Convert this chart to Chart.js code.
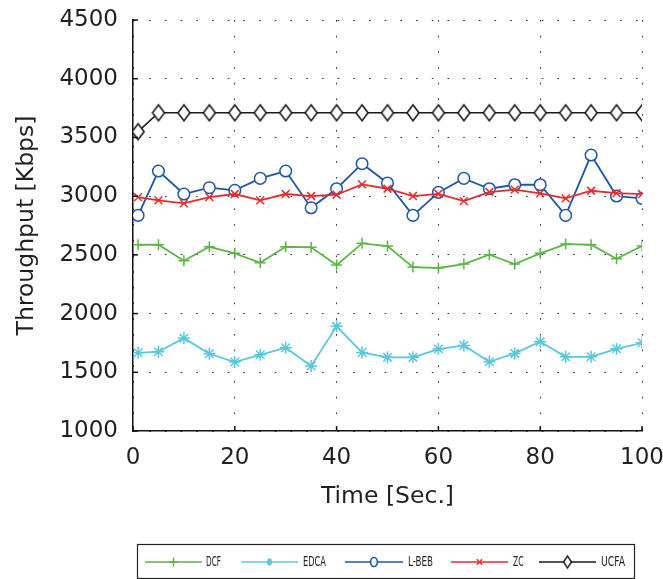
<!DOCTYPE html>
<html><head><meta charset="utf-8">
<script src="https://cdn.jsdelivr.net/npm/chart.js@4/dist/chart.umd.min.js"></script>
<style>html,body{margin:0;padding:0;background:#fff;}#wrap{width:663px;height:579px;position:relative;}</style>
</head><body><div id="wrap"><canvas id="c" width="663" height="579"></canvas></div>
<script>
const timeSec = [1,5,10,15,20,25,30,35,40,45,50,55,60,65,70,75,80,85,90,95,100];
const dcf  = [2586,2586,2450,2569,2513,2433,2569,2564,2413,2598,2575,2396,2388,2422,2501,2422,2513,2592,2586,2467,2575];
const edca = [1666,1675,1791,1658,1587,1649,1709,1553,1891,1669,1627,1627,1698,1729,1589,1661,1760,1632,1632,1700,1751];
const lbeb = [2836,3214,3018,3072,3049,3151,3214,2901,3063,3276,3112,2836,3032,3151,3063,3097,3097,2836,3350,3001,2981];
const zc   = [2992,2964,2938,2992,3018,2964,3018,3001,3012,3100,3063,3001,3020,2958,3035,3055,3023,2981,3046,3026,3018];
const ucfa = [3549,3710,3710,3710,3710,3710,3710,3710,3710,3710,3710,3710,3710,3710,3710,3710,3710,3710,3710,3710,3710];
const seriesNames = ['DCF','EDCA','L-BEB','ZC','UCFA'];
const xTickValues = [0,20,40,60,80,100];
const yTickValues = [1000,1500,2000,2500,3000,3500,4000,4500];
const xTitle = 'Time [Sec.]';
const yTitle = 'Throughput [Kbps]';

const COLORS = ['#5cb645','#5ac8dc','#1f57a8','#ea2b2b','#1a1a1a'];
const TXT = '#231f20';

function diamond(w,h,lw){
  const c=document.createElement('canvas');
  c.width=Math.ceil(w+lw*2+2); c.height=Math.ceil(h+lw*2+2);
  const g=c.getContext('2d'); const cx=c.width/2, cy=c.height/2;
  g.beginPath(); g.moveTo(cx,cy-h/2); g.lineTo(cx+w/2,cy); g.lineTo(cx,cy+h/2); g.lineTo(cx-w/2,cy); g.closePath();
  g.fillStyle='#fff'; g.fill(); g.lineWidth=lw; g.strokeStyle=COLORS[4]; g.stroke();
  return c;
}
const bigDiamond = diamond(12,16,1.6);
const smallDiamond = diamond(8,12,1.4);

const toPts = arr => timeSec.map((t,i)=>({x:t,y:arr[i]}));
const styleDefs = [
  {pointStyle:'cross', pointRadius:5.5, fill:COLORS[0]},
  {pointStyle:'star', pointRadius:6, fill:COLORS[1]},
  {pointStyle:'circle', pointRadius:5.8, fill:'#fff'},
  {pointStyle:'crossRot', pointRadius:5.5, fill:COLORS[3]},
  {pointStyle:bigDiamond, pointRadius:8, fill:'#fff'}
];
const allSeries = [dcf, edca, lbeb, zc, ucfa];
const datasets = allSeries.map((arr,i)=>({
  label: seriesNames[i],
  data: toPts(arr),
  borderColor: COLORS[i],
  backgroundColor: COLORS[i],
  borderWidth: i===4 ? 1.6 : 1.8,
  pointStyle: styleDefs[i].pointStyle,
  pointRadius: styleDefs[i].pointRadius,
  pointHoverRadius: styleDefs[i].pointRadius,
  pointBorderColor: COLORS[i],
  pointBackgroundColor: styleDefs[i].fill,
  pointBorderWidth: 1.5,
  tension: 0,
  fill: false,
  order: 5-i
}));

const inwardTicks = {
  id:'inwardTicks',
  afterDraw(chart){
    const {ctx, chartArea:a, scales:{x,y}} = chart;
    ctx.save(); ctx.strokeStyle='#111'; ctx.lineWidth=1.5;
    y.ticks.forEach(t=>{const py=y.getPixelForValue(t.value); ctx.beginPath(); ctx.moveTo(a.left,py); ctx.lineTo(a.left+5,py); ctx.stroke();});
    x.ticks.forEach(t=>{const px=x.getPixelForValue(t.value); ctx.beginPath(); ctx.moveTo(px,a.bottom); ctx.lineTo(px,a.bottom-5); ctx.stroke();});
    ctx.restore();
  }
};

function drawMarker(ctx, kind, x, y, r, color){
  ctx.save(); ctx.strokeStyle=color; ctx.fillStyle=color; ctx.lineWidth=1.4;
  ctx.beginPath();
  if(kind==='cross'){ctx.moveTo(x-r,y);ctx.lineTo(x+r,y);ctx.moveTo(x,y-r);ctx.lineTo(x,y+r);ctx.stroke();}
  else if(kind==='star'){ctx.ellipse(x,y,r*0.55,r*0.85,0,0,Math.PI*2);ctx.fill();}
  else if(kind==='circle'){ctx.ellipse(x,y,r*0.75,r,0,0,Math.PI*2);ctx.fillStyle='#fff';ctx.fill();ctx.lineWidth=1.6;ctx.stroke();}
  else if(kind==='crossRot'){const d=r*0.6;ctx.moveTo(x-d,y-d);ctx.lineTo(x+d,y+d);ctx.moveTo(x+d,y-d);ctx.lineTo(x-d,y+d);ctx.stroke();}
  ctx.restore();
}

const boxLegend = {
  id:'boxLegend',
  afterDraw(chart){
    const ctx = chart.ctx;
    ctx.save();
    ctx.strokeStyle='#222'; ctx.lineWidth=1.2;
    ctx.strokeRect(137.5,544.5,497,34);
    const items = [
      {x1:145,x2:202,tx:206,tw:15},
      {x1:241,x2:298,tx:303,tw:23},
      {x1:345,x2:403,tx:408,tw:25},
      {x1:451,x2:508,tx:513,tw:10.5},
      {x1:539,x2:596,tx:601,tw:24}
    ];
    const kinds = ['cross','star','circle','crossRot','diamond'];
    const ly = 562;
    chart.data.datasets.forEach((ds,i)=>{
      const it = items[i];
      ctx.strokeStyle = ds.borderColor; ctx.lineWidth = 1.5;
      ctx.beginPath(); ctx.moveTo(it.x1,ly); ctx.lineTo(it.x2,ly); ctx.stroke();
      const cx=(it.x1+it.x2)/2;
      if(kinds[i]==='diamond'){ ctx.drawImage(smallDiamond, cx-smallDiamond.width/2, ly-smallDiamond.height/2); }
      else drawMarker(ctx, kinds[i], cx, ly, 4.5, ds.borderColor);
      ctx.fillStyle = TXT;
      ctx.font = '14px "DejaVu Sans Condensed", "DejaVu Sans", sans-serif';
      ctx.textBaseline='middle'; ctx.textAlign='left';
      ctx.fillText(ds.label, it.tx, ly+0.5, it.tw);
    });
    ctx.restore();
  }
};

new Chart(document.getElementById('c'), {
  type:'line',
  data:{datasets},
  options:{
    responsive:false, animation:false, devicePixelRatio:1,
    events:[],
    layout:{padding:{left:0,top:20,right:21,bottom:68}},
    plugins:{legend:{display:false}, tooltip:{enabled:false}},
    scales:{
      x:{
        type:'linear', min:0, max:100,
        afterBuildTicks: s => { s.ticks = xTickValues.map(v=>({value:v})); },
        afterFit: s => { s.height = 80; s.paddingLeft = 0; s.paddingRight = 0; },
        ticks:{font:{family:'DejaVu Sans', size:23}, color:TXT, padding:13, maxRotation:0, callback:v=>String(v)},
        grid:{color:'#2a2a2a', lineWidth:1, drawTicks:false},
        border:{display:true, color:'#111', width:1.5, dash:[1.6,14.1]},
        title:{display:true, text:xTitle, color:TXT, font:{family:'DejaVu Sans', size:23.5, lineHeight:1}, padding:{top:0,bottom:2}}
      },
      y:{
        type:'linear', min:1000, max:4500,
        afterBuildTicks: s => { s.ticks = yTickValues.map(v=>({value:v})); },
        afterFit: s => { s.width = 133; s.paddingTop = 0; s.paddingBottom = 0; },
        ticks:{font:{family:'DejaVu Sans', size:23}, color:TXT, padding:15, callback:v=>String(v)},
        grid:{color:'#2a2a2a', lineWidth:1, drawTicks:false},
        border:{display:true, color:'#111', width:1.5, dash:[1.6,14.1]},
        title:{display:true, text:yTitle, color:TXT, font:{family:'DejaVu Sans', size:23.5, lineHeight:1}, padding:{top:15,bottom:0}}
      }
    }
  },
  plugins:[inwardTicks, boxLegend]
});
</script></body></html>
